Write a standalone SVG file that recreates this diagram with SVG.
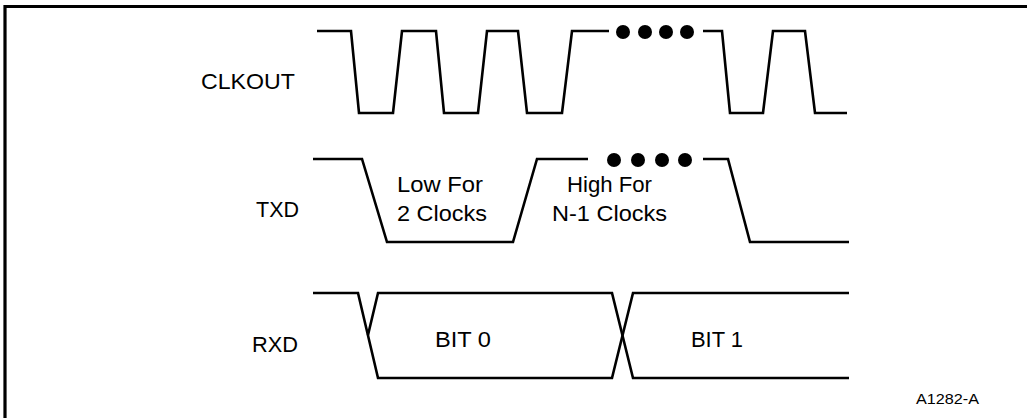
<svg xmlns="http://www.w3.org/2000/svg" width="1027" height="418" viewBox="0 0 1027 418">
<style>
.w{fill:none;stroke:#000;stroke-width:2.6;stroke-linejoin:miter}
.t{font-family:"Liberation Sans",Arial,sans-serif;font-size:22px;fill:#000}
.c{text-anchor:middle}
.d{fill:#000}
</style>
<rect width="1027" height="418" fill="#fff"/>
<path d="M5,418 V6.5 H1027" fill="none" stroke="#000" stroke-width="3.2"/>
<g id="labels">
<text class="t" x="201" y="89" textLength="94" lengthAdjust="spacingAndGlyphs">CLKOUT</text>
<text class="t" x="256" y="217" textLength="43" lengthAdjust="spacingAndGlyphs">TXD</text>
<text class="t" x="252" y="352" textLength="46" lengthAdjust="spacingAndGlyphs">RXD</text>
</g>
<g id="clkout">
<path class="w" d="M317,31 H351 L359,113 H393 L402,31 H436 L444,113 H478 L487,31 H518 L527,113 H562 L572,31 H609"/>
<path class="w" d="M703,31 H722 L730,113 H763 L773,31 H805 L815,113 H847"/>
<circle class="d" cx="623" cy="32" r="7"/>
<circle class="d" cx="645" cy="32" r="7"/>
<circle class="d" cx="666" cy="32" r="7"/>
<circle class="d" cx="687" cy="32" r="7"/>
</g>
<g id="txd">
<path class="w" d="M313,159 H362 L387,242 H513 L537,159 H588"/>
<path class="w" d="M703,159 H728 L750,242 H849"/>
<circle class="d" cx="614" cy="160" r="7"/>
<circle class="d" cx="638" cy="160" r="7"/>
<circle class="d" cx="662" cy="160" r="7"/>
<circle class="d" cx="685" cy="160" r="7"/>
<text class="t" x="397" y="192" textLength="86" lengthAdjust="spacingAndGlyphs">Low For</text>
<text class="t" x="397" y="221" textLength="90" lengthAdjust="spacingAndGlyphs">2 Clocks</text>
<text class="t" x="567" y="192" textLength="85" lengthAdjust="spacingAndGlyphs">High For</text>
<text class="t" x="552" y="221" textLength="115" lengthAdjust="spacingAndGlyphs">N-1 Clocks</text>
</g>
<g id="rxd">
<path class="w" d="M313,293 H358 L378,378 H612 L633,293 H849"/>
<path class="w" d="M368,335 L378,293 H612 L633,378 H849"/>
<text class="t" x="435" y="347" textLength="56" lengthAdjust="spacingAndGlyphs">BIT 0</text>
<text class="t" x="691" y="347" textLength="52" lengthAdjust="spacingAndGlyphs">BIT 1</text>
</g>
<text class="t" x="916" y="404" style="font-size:15px" textLength="63" lengthAdjust="spacingAndGlyphs">A1282-A</text>
</svg>
